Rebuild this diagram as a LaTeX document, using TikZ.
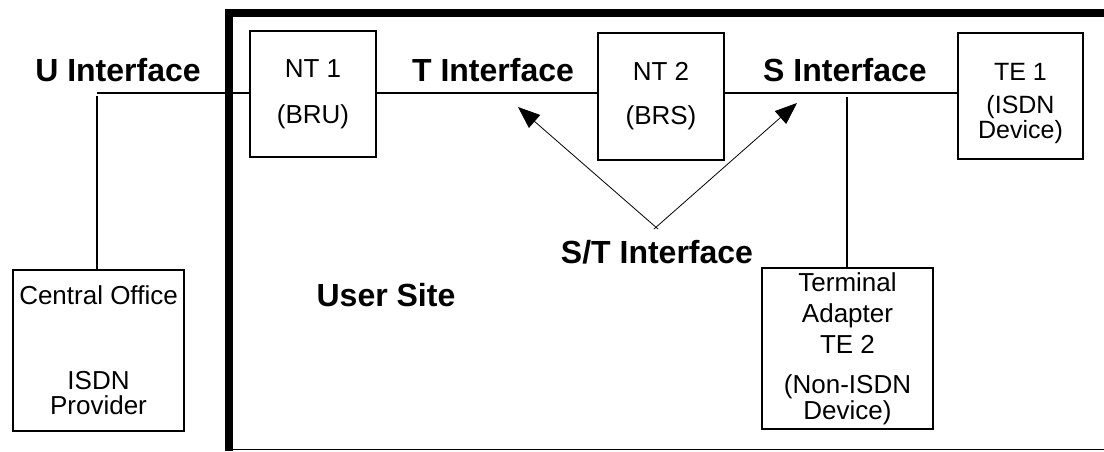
\documentclass[tikz,border=0pt]{standalone}
\usepackage{fontspec}
\setmainfont{Liberation Sans}
\usetikzlibrary{arrows.meta}
\begin{document}
\begin{tikzpicture}[x=1pt,y=-1pt,
  box/.style={draw,line width=1.5pt,inner sep=0pt,align=center,font=\fontsize{26}{30}\selectfont},
  lbl/.style={inner sep=0pt,font=\fontsize{32}{36}\selectfont\bfseries},
  wire/.style={line width=1.4pt},
  pointer/.style={line width=0.8pt,-{Triangle[length=22pt,width=17pt]}}]
\useasboundingbox (0,0) rectangle (1104,451);
% user site frame
\draw[line width=8pt] (229,451) -- (229,13) -- (1104,13);
\draw[line width=1.5pt] (225,449.5) -- (1104,449.5);
% boxes
\node[box,minimum width=126pt,minimum height=126pt,font=\fontsize{26}{46}\selectfont] (nt1) at (313,94) {NT 1\\(BRU)};
\node[box,minimum width=126pt,minimum height=127pt,font=\fontsize{26}{44}\selectfont] (nt2) at (661,96.5) {NT 2\\(BRS)};
\node[box,minimum width=125pt,minimum height=126pt,
  label={[inner sep=0pt,align=center,yshift=-7pt,font=\fontsize{25}{27}\selectfont]center:TE 1\\[6pt](ISDN\\[-2pt]Device)}] (te1) at (1020.5,96) {};
\node[box,minimum width=171pt,minimum height=161pt,font=\fontsize{26}{25}\selectfont] (co) at (98.5,350.5) {Central Office\\[60pt]ISDN\\Provider};
\node[box,minimum width=171pt,minimum height=161pt,font=\fontsize{26}{31}\selectfont] (ta) at (847.5,348.5) {Terminal\\Adapter\\TE 2\\[9pt](Non-ISDN\\[-5pt]Device)};
% labels
\node[lbl] (ul) at (118,70) {U Interface};
\node[lbl] (tl) at (493,70) {T Interface};
\node[lbl] (sl) at (845,70) {S Interface};
\node[lbl] (stl) at (657,252) {S/T Interface};
\node[lbl] (us) at (386,295) {User Site};
% wires
\coordinate (u) at (97,93);
\coordinate (s) at (847,93);
\draw[wire] (u) -- (nt1.west |- u);
\draw[wire] (u |- 0,96) -- (co.north -| u);
\draw[wire] (nt1.east |- u) -- (nt2.west |- u);
\draw[wire] (nt2.east |- u) -- (te1.west |- u);
\draw[wire] (s |- 0,97) -- (ta.north -| s);
% S/T pointers
\coordinate (st) at (656,231);
\coordinate (tp) at (518,107);
\coordinate (sp) at (797,103);
\draw[pointer] ([shift={(2pt,2pt)}]st) -- (tp);
\draw[pointer] ([shift={(-2pt,2pt)}]st) -- (sp);
\end{tikzpicture}
\end{document}
